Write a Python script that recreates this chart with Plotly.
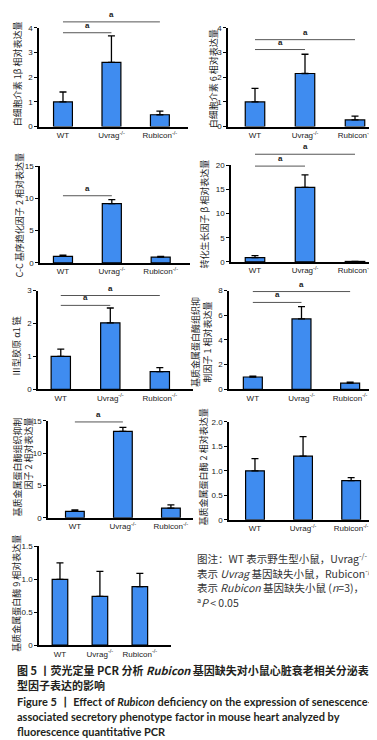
import plotly.graph_objects as go

W, H = 377, 740

# ---------------- data ----------------
groups = ["WT", "Uvrag<sup>-/-</sup>", "Rubicon<sup>-/-</sup>"]

il1b_mean = [1.0, 2.6, 0.48]
il1b_err = [0.40, 1.07, 0.15]
il6_mean = [1.0, 2.15, 0.27]
il6_err = [0.55, 0.78, 0.15]
ccl2_mean = [1.0, 9.2, 0.9]
ccl2_err = [0.2, 0.6, 0.1]
tgfb_mean = [0.9, 15.4, 0.1]
tgfb_err = [0.4, 2.6, 0.0]
col3a1_mean = [1.0, 2.02, 0.54]
col3a1_err = [0.22, 0.45, 0.12]
timp1_mean = [1.0, 5.7, 0.5]
timp1_err = [0.07, 1.0, 0.08]
timp2_mean = [1.0, 13.4, 1.5]
timp2_err = [0.2, 0.6, 0.5]
mmp2_mean = [1.0, 1.3, 0.8]
mmp2_err = [0.25, 0.4, 0.06]
mmp9_mean = [1.0, 0.74, 0.89]
mmp9_err = [0.25, 0.38, 0.2]

ylabels = [
    "白细胞介素 1β 相对表达量",
    "白细胞介素 6 相对表达量",
    "C-C 基序趋化因子 2 相对表达量",
    "转化生长因子 β 相对表达量",
    "Ⅲ型胶原 α1 链",
    "基质金属蛋白酶组织抑<br>制因子 1 相对表达量",
    "基质金属蛋白酶组织抑制<br>因子 2 相对表达量",
    "基质金属蛋白酶 2 相对表达量",
    "基质金属蛋白酶 9 相对表达量",
]
yticks = [
    [0, 1, 2, 3, 4],
    [0, 1, 2, 3, 4],
    [0, 5, 10, 15],
    [0, 5, 10, 15, 20],
    [0, 1, 2, 3],
    [0, 2, 4, 6, 8],
    [0, 5, 10, 15],
    [0, 0.5, 1.0, 1.5, 2.0],
    [0, 0.5, 1.0, 1.5],
]
ytick_text = [
    ["0", "1", "2", "3", "4"],
    ["0", "1", "2", "3", "4"],
    ["0", "5", "10", "15"],
    ["0", "5", "10", "15", "20"],
    ["0", "1", "2", "3"],
    ["0", "2", "4", "6", "8"],
    ["0", "5", "10", "15"],
    ["0", "0.5", "1.0", "1.5", "2.0"],
    ["0", "0.5", "1.0", "1.5"],
]
# significance comparisons (group index pairs), label "a"
sig_pairs = [
    [(0, 2), (0, 1)],
    [(0, 2), (0, 1)],
    [(0, 1)],
    [(0, 2), (0, 1)],
    [(0, 2), (0, 1)],
    [(0, 2), (0, 1)],
    [(0, 1)],
    [],
    [],
]
means = [il1b_mean, il6_mean, ccl2_mean, tgfb_mean, col3a1_mean,
         timp1_mean, timp2_mean, mmp2_mean, mmp9_mean]
errs = [il1b_err, il6_err, ccl2_err, tgfb_err, col3a1_err,
        timp1_err, timp2_err, mmp2_err, mmp9_err]

# ---------------- layout geometry (pixels) ----------------
# (y-axis x px, x-axis end px, y px of zero, y px of top tick, xrange0, xrange1)
geom = [
    (31, 180, 116, 16, -0.495, 2.58),
    (220, 372, 116, 16, -0.54, 2.5),
    (32, 182, 254, 156, -0.47, 2.6),
    (223, 367, 253, 155, -0.48, 2.4),
    (30, 185, 382, 282, -0.46, 2.67),
    (221, 365, 382, 282, -0.49, 2.47),
    (40, 185, 512, 414, -0.56, 2.46),
    (221, 372, 514, 415, -0.54, 2.6),
    (31, 163, 641, 541, -0.525, 2.78),
]
# significance line y px (one per pair) and y-title position (cx, cy, align)
sig_y = [[10, 21], [28, 38], [186], [144, 156], [287, 297], [283, 294], [415], [], []]
title_pos = [(9, 63, "center"), (205, 67, "center"), (11, 206, "center"),
             (197, 205, "center"), (9, 338, "center"), (194, 334, "center"),
             (15, 461, "right"), (195, 461, "center"), (9, 589, "center")]


def fx(px):
    return px / W


def fy(py):
    return 1 - py / H


BAR = "#3f8cf0"
TICKFONT = dict(family="Liberation Sans, Arial", size=8, color="#1a1a1a")
CJK = "Noto Sans CJK SC"

fig = go.Figure()
layout = dict(
    width=W, height=H, margin=dict(l=0, r=0, t=0, b=0),
    paper_bgcolor="white", plot_bgcolor="white", showlegend=False,
)
shapes = []
annotations = []

for i in range(9):
    n = i + 1
    xa = "x" if n == 1 else f"x{n}"
    ya = "y" if n == 1 else f"y{n}"
    xkey = "xaxis" if n == 1 else f"xaxis{n}"
    ykey = "yaxis" if n == 1 else f"yaxis{n}"
    x0, x1, yb, yt, r0, r1 = geom[i]
    ymax = yticks[i][-1]
    fig.add_trace(go.Bar(
        x=[0, 1, 2], y=means[i], width=0.39,
        marker=dict(color=BAR, line=dict(color="black", width=1.2)),
        error_y=dict(type="data", symmetric=False, array=errs[i],
                     arrayminus=[0, 0, 0], color="black", thickness=1.3, width=3.5),
        xaxis=xa, yaxis=ya,
    ))
    layout[xkey] = dict(
        domain=[fx(x0), fx(x1)], range=[r0, r1], anchor=ya,
        tickmode="array", tickvals=[0, 1, 2], ticktext=groups,
        showline=True, linecolor="black", linewidth=1.5, ticks="",
        showgrid=False, zeroline=False, tickfont=TICKFONT, fixedrange=True,
    )
    layout[ykey] = dict(
        domain=[fy(yb), fy(yt)], range=[0, ymax], anchor=xa,
        tickmode="array", tickvals=yticks[i], ticktext=ytick_text[i],
        showline=True, linecolor="black", linewidth=1.5, ticks="outside",
        ticklen=3, tickwidth=1.3, tickcolor="black",
        showgrid=False, zeroline=False, tickfont=TICKFONT, fixedrange=True,
    )
    for (a, b), yp in zip(sig_pairs[i], sig_y[i]):
        shapes.append(dict(type="line", xref=xa, yref="paper", x0=a, x1=b,
                           y0=fy(yp), y1=fy(yp), line=dict(color="#555555", width=1)))
        annotations.append(dict(xref=xa, yref="paper", x=(a + b) / 2, y=fy(yp - 1),
                                text="<b>a</b>", showarrow=False, yanchor="bottom",
                                font=dict(family="Liberation Sans, Arial", size=8, color="#222")))
    cx, cy, al = title_pos[i]
    annotations.append(dict(xref="paper", yref="paper", x=fx(cx), y=fy(cy),
                            text=ylabels[i], textangle=-90, showarrow=False,
                            xanchor="center", yanchor="middle", align=al,
                            font=dict(family=CJK, size=9, color="#1a1a1a")))

# note text
note_lines = [
    "图注：WT 表示野生型小鼠，Uvrag<sup>-/-</sup>",
    "表示 <i>Uvrag</i> 基因缺失小鼠，Rubicon<sup>-/-</sup>",
    "表示 <i>Rubicon</i> 基因缺失小鼠 (<i>n</i>=3)，",
    "<sup>a</sup><i>P</i> &lt; 0.05",
]
note_y = [553, 568, 583, 597]
for t, yp in zip(note_lines, note_y):
    annotations.append(dict(xref="paper", yref="paper", x=fx(187), y=fy(yp),
                            text=t, showarrow=False, xanchor="left", yanchor="middle",
                            font=dict(family=CJK, size=10.5, color="#333")))

caption_lines = [
    "<b>图 5 丨荧光定量 PCR 分析 <i>Rubicon</i> 基因缺失对小鼠心脏衰老相关分泌表</b>",
    "<b>型因子表达的影响</b>",
    "<b>Figure 5 丨 Effect of <i>Rubicon</i> deficiency on the expression of senescence-</b>",
    "<b>associated secretory phenotype factor in mouse heart analyzed by</b>",
    "<b>fluorescence quantitative PCR</b>",
]
caption_y = [666, 681, 698, 713, 728]
caption_font = [CJK, CJK, "Lato", "Lato", "Lato"]
for t, yp, ff in zip(caption_lines, caption_y, caption_font):
    annotations.append(dict(xref="paper", yref="paper", x=fx(7), y=fy(yp),
                            text=t, showarrow=False, xanchor="left", yanchor="middle",
                            font=dict(family=ff, size=11, color="#231f20")))

layout["shapes"] = shapes
layout["annotations"] = annotations
fig.update_layout(**layout)
fig.write_html("out.html")
